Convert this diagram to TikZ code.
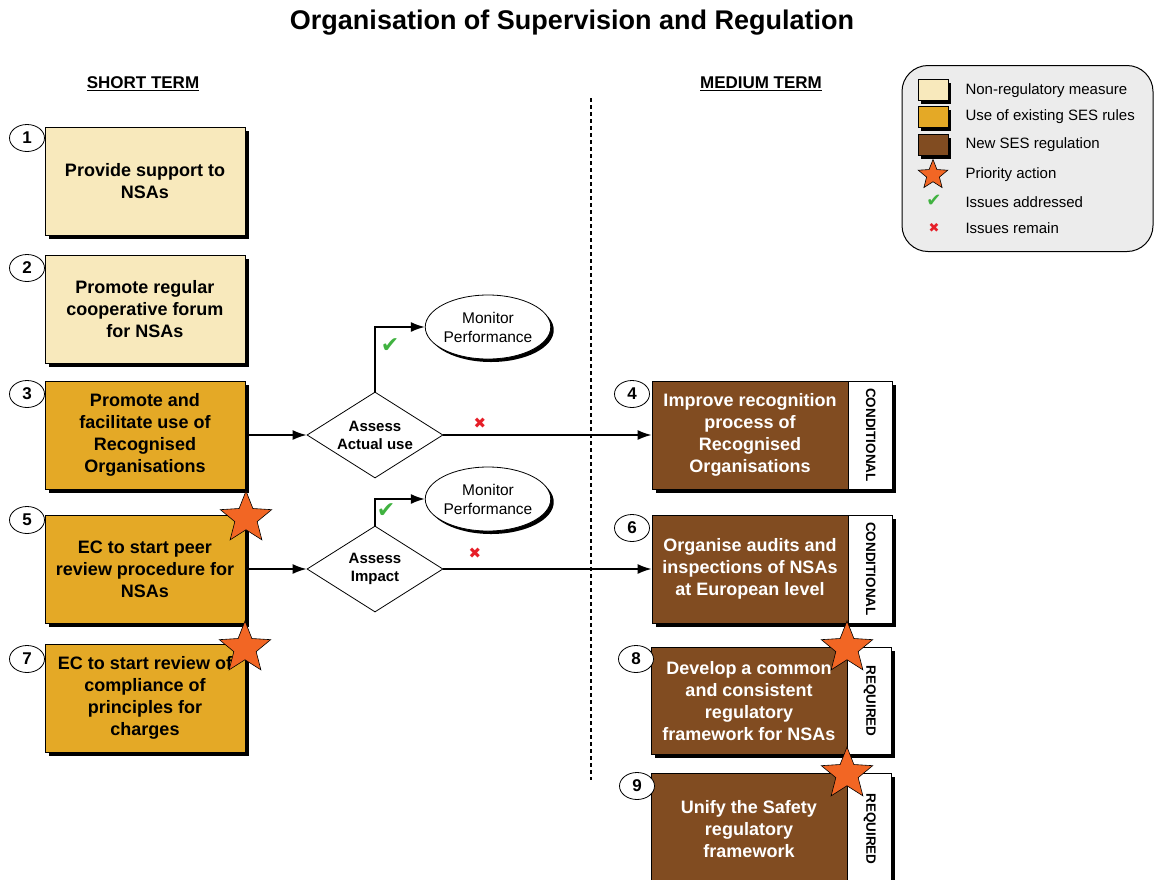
\documentclass[tikz,border=0pt]{standalone}
\usepackage{fontspec}
\setmainfont{Liberation Sans}
\newfontfamily\symfont{DejaVu Sans}
\usetikzlibrary{shapes.geometric,shadows,arrows.meta}
\definecolor{cream}{RGB}{248,233,188}
\definecolor{amber}{RGB}{228,169,38}
\definecolor{bark}{RGB}{129,76,33}
\definecolor{prio}{RGB}{242,102,36}
\definecolor{okgreen}{RGB}{64,178,64}
\definecolor{nogo}{RGB}{230,30,40}
\definecolor{legbg}{RGB}{236,236,236}

\begin{document}
\begin{tikzpicture}[x=1pt, y=-1pt,
      shade/.style={drop shadow={shadow xshift=3.5pt, shadow yshift=-3.5pt, fill=black, opacity=1}},
      act/.style={draw=black, line width=0.8pt, shade, minimum width=200pt, minimum height=108pt,
                  align=center, font=\fontsize{18}{22}\selectfont\bfseries},
      newreg/.style={act, fill=bark, text=white, minimum width=196pt},
      tab/.style={draw=black, line width=0.8pt, fill=white, shade, minimum width=44pt,
                  inner sep=0pt, font=\fontsize{13.5}{16}\selectfont\bfseries},
      num/.style={ellipse, draw=black, line width=0.8pt, fill=white, minimum width=35pt,
                  minimum height=27pt, inner sep=0pt, font=\fontsize{17}{18}\selectfont\bfseries},
      check/.style={diamond, draw=black, line width=0.8pt, fill=white, aspect=1.55, inner sep=0pt,
                  minimum width=136pt, minimum height=86pt, align=center,
                  font=\fontsize{15}{18}\selectfont\bfseries},
      monitor/.style={ellipse, draw=black, line width=0.8pt, fill=white,
                  drop shadow={shadow xshift=3pt, shadow yshift=-3pt, fill=black, opacity=1},
                  minimum width=111pt, minimum height=64pt, inner sep=0pt, align=center,
                  font=\fontsize{15.5}{19}\selectfont},
      prio/.style={star, star points=5, star point ratio=2.3, draw=black, line width=0.6pt,
                  fill=prio, minimum size=54pt, inner sep=0pt},
      ok/.style={text=okgreen, font=\symfont\fontsize{22}{22}\selectfont},
      ko/.style={text=nogo, font=\symfont\fontsize{15}{15}\selectfont},
      swatch/.style={draw=black, line width=0.6pt, minimum width=30pt, minimum height=21pt,
                  drop shadow={shadow xshift=3pt, shadow yshift=-3pt, fill=black, opacity=1}},
      legtext/.style={anchor=west, font=\fontsize{15}{18}\selectfont},
      arr/.style={-{Latex[length=14pt, width=10pt]}, line width=1.6pt}]

    \useasboundingbox (0,0) rectangle (1154,879);

    % title and headings
    \node[font=\fontsize{27}{30}\selectfont\bfseries] (title) at (572,23)
      {Organisation of Supervision and Regulation};
    \node[font=\fontsize{17}{20}\selectfont\bfseries] (short) at (143,84) {\underline{SHORT TERM}};
    \node[font=\fontsize{17}{20}\selectfont\bfseries] (medium) at (761,84) {\underline{MEDIUM TERM}};

    \coordinate (cuttop) at (591,98);
    \coordinate (cutbot) at (591,780);
    \draw[line width=1.5pt, dash pattern=on 4pt off 3pt] (cuttop) -- (cutbot);

    % legend
    \node[draw=black, line width=1pt, rounded corners=26pt, fill=legbg,
          minimum width=251pt, minimum height=186pt] (legend) at (1027.5,158.5) {};
    \node[swatch, fill=cream] (l1) at (933,90) {};
    \node[swatch, fill=amber] (l2) at (933,117) {};
    \node[swatch, fill=bark]  (l3) at (933,145) {};
    \node[prio, minimum size=31pt] (l4) at (933,175) {};
    \node[ok, font=\symfont\fontsize{18}{18}\selectfont] (l5) at (934,201) {✔};
    \node[ko, font=\symfont\fontsize{13}{13}\selectfont] (l6) at (934,228) {✖};
    \node[legtext] at (962,91)  {Non-regulatory measure};
    \node[legtext] at (962,117) {Use of existing SES rules};
    \node[legtext] at (962,145) {New SES regulation};
    \node[legtext] at (962,175) {Priority action};
    \node[legtext] at (962,202) {Issues addressed};
    \node[legtext] at (962,228) {Issues remain};

    % short term
    \node[act, fill=cream] (b1) at (145,181) {Provide support to\\NSAs};
    \node[act, fill=cream] (b2) at (145,309) {Promote regular\\cooperative forum\\for NSAs};
    \node[act, fill=amber] (b3) at (145,435)
      {Promote and\\facilitate use of\\Recognised\\Organisations};
    \node[act, fill=amber] (b5) at (145,569) {EC to start peer\\review procedure for\\NSAs};
    \node[act, fill=amber] (b7) at (145,698)
      {EC to start review of\\compliance of\\principles for\\charges};

    % medium term
    \node[newreg] (b4) at (750,435)
      {Improve recognition\\process of\\Recognised\\Organisations};
    \node[tab, anchor=west, minimum height=108pt] (t4) at (b4.east) {\rotatebox{-90}{CONDITIONAL}};
    \node[newreg] (b6) at (750,569)
      {Organise audits and\\inspections of NSAs\\at European level};
    \node[tab, anchor=west, minimum height=108pt] (t6) at (b6.east) {\rotatebox{-90}{CONDITIONAL}};
    \node[newreg, minimum height=107pt] (b8) at (749,701)
      {Develop a common\\and consistent\\regulatory\\framework for NSAs};
    \node[tab, anchor=west, minimum height=107pt] (t8) at (b8.east) {\rotatebox{-90}{REQUIRED}};
    \node[newreg, minimum height=112pt] (b9) at (749,829)
      {Unify the Safety\\regulatory\\framework};
    \node[tab, anchor=west, minimum height=112pt] (t9) at (b9.east) {\rotatebox{-90}{REQUIRED}};

    % numbers
    \node[num] (n1) at (27,138) {1};
    \node[num] (n2) at (27,268) {2};
    \node[num] (n3) at (27,394) {3};
    \node[num] (n5) at (27,520) {5};
    \node[num] (n7) at (27,659) {7};
    \node[num] (n4) at (632,394) {4};
    \node[num] (n6) at (632,528) {6};
    \node[num] (n8) at (636,659) {8};
    \node[num] (n9) at (637,786) {9};

    % assessments
    \node[check] (d3) at (375,435) {Assess\\Actual use};
    \node[check] (d5) at (375,569) {Assess\\Impact};
    \node[monitor] (m3) at (488,327) {Monitor\\Performance};
    \node[monitor] (m5) at (488,499) {Monitor\\Performance};

    \draw[arr] (b3.east) -- (d3.west);
    \draw[arr] (d3.east) -- (b4.west);
    \draw[arr] (d3.north) |- (m3.west);
    \draw[arr] (b5.east) -- (d5.west);
    \draw[arr] (d5.east) -- (b6.west);
    \draw[arr] (d5.north) |- (m5.west);

    \node[ok] (ok3) at (390,346) {✔};
    \node[ok] (ok5) at (386,511) {✔};
    \node[ko] (ko3) at (480,423) {✖};
    \node[ko] (ko5) at (475,553) {✖};

    % priority stars
    \node[prio] (s5) at (246,518) {};
    \node[prio] (s7) at (245,648) {};
    \node[prio] (s8) at (847,648) {};
    \node[prio] (s9) at (847,774) {};
  \end{tikzpicture}
\end{document}
